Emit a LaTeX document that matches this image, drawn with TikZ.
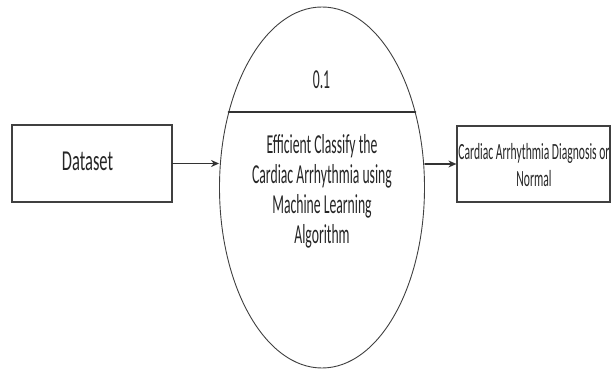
\documentclass[tikz,border=0pt]{standalone}
\usepackage{fontspec}
\setmainfont{Carlito}
\usetikzlibrary{arrows.meta,shapes.geometric}

\begin{document}
\begin{tikzpicture}[x=1pt,y=-1pt,>={Stealth[length=8pt,width=7pt]},line cap=round,
  box/.style={draw=black!75,line width=1.2pt,inner sep=0pt},
  flow/.style={->,draw=black!80,line width=1.4pt},
  lbl/.style={text=black!85,align=center,inner sep=0pt}]
\useasboundingbox (0,0) rectangle (611,371);
\node[box,minimum width=160pt,minimum height=77pt] (data) at (92,163.5) {};
\node[box,minimum width=153pt,minimum height=76pt] (res) at (533.5,164) {};
\node[ellipse,draw=black!75,line width=0.9pt,minimum width=205pt,minimum height=361pt,inner sep=0pt] (proc) at (322,187.5) {};
\draw[black!80,line width=1.8pt] (proc.141) -- (proc.39);
\node[lbl,font=\fontsize{16.5}{19}\selectfont,yscale=1.75] (datatxt) at (87.5,161) {Dataset};
\node[lbl,font=\fontsize{13.7}{15}\selectfont,yscale=2] (idtxt) at (321.5,80) {0.1};
\node[lbl,font=\fontsize{13.7}{15}\selectfont,yscale=2] (proctxt) at (322,191) {Efficient Classify the\\Cardiac Arrhythmia using\\Machine Learning\\Algorithm};
\node[lbl,font=\fontsize{11.6}{13.5}\selectfont,yscale=2] (restxt) at (534,165) {Cardiac Arrhythmia Diagnosis or\\Normal};
\draw[flow] (data.east) -- (data.east -| proc.west);
\draw[flow] (proc.east |- res.west) -- (res.west);
\end{tikzpicture}
\end{document}
